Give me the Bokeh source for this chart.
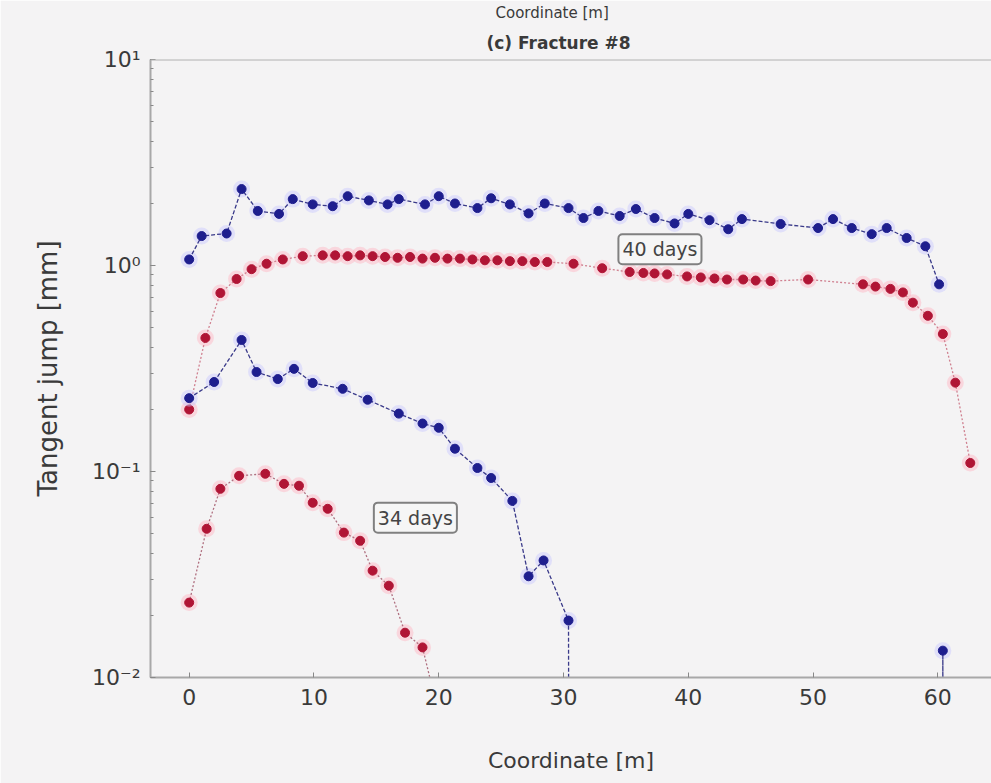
from bokeh.plotting import figure
from bokeh.models import Range1d, Label, Span, CustomJSTickFormatter, FixedTicker, LogTicker, Title
from bokeh.embed import file_html
from bokeh.resources import INLINE

# ---- data ----
blue40_x = [0, 1.0, 3.0, 4.2, 5.5, 7.2, 8.3, 9.9, 11.5, 12.7, 14.4, 15.9, 16.8, 18.9, 20.0, 21.3, 23.1, 24.2, 25.7, 27.2,
            28.5, 30.4, 31.6, 32.8, 34.5, 35.8, 37.3, 38.9, 40.0, 41.7, 43.2, 44.3, 47.4, 50.4, 51.6, 53.1, 54.7, 55.9, 57.5, 59.0, 60.1]
blue40_y = [1.07, 1.39, 1.43, 2.35, 1.84, 1.78, 2.10, 1.98, 1.94, 2.17, 2.07, 1.98, 2.10, 1.98, 2.17, 2.00, 1.90, 2.12, 1.98, 1.79,
            2.00, 1.90, 1.70, 1.84, 1.74, 1.88, 1.70, 1.60, 1.78, 1.66, 1.50, 1.68, 1.59, 1.52, 1.68, 1.52, 1.42, 1.52, 1.36, 1.24, 0.81]

red40_x = [0, 1.3, 2.5, 3.8, 5.0, 6.2, 7.5, 9.1,
           10.7, 11.7, 12.7, 13.7, 14.7, 15.7, 16.7, 17.7, 18.7, 19.7, 20.7, 21.7, 22.7, 23.7, 24.7, 25.7, 26.7, 27.7, 28.7,
           30.8, 33.1, 35.3, 36.4, 37.3, 38.3, 39.9, 41.0, 42.1, 43.1,
           44.4, 45.4, 46.6, 49.6,
           54.0, 55.0, 56.2, 57.2, 58.0, 59.2, 60.4, 61.4, 62.6]
red40_y = [0.20, 0.445, 0.735, 0.86, 0.96, 1.02, 1.07, 1.11,
           1.12, 1.12, 1.11, 1.12, 1.11, 1.10, 1.09, 1.10, 1.08, 1.09, 1.08, 1.08, 1.07, 1.06, 1.06, 1.05, 1.05, 1.04, 1.04,
           1.02, 0.97, 0.93, 0.92, 0.915, 0.905, 0.885, 0.875, 0.865, 0.855,
           0.855, 0.845, 0.84, 0.855,
           0.81, 0.79, 0.77, 0.74, 0.66, 0.57, 0.465, 0.27, 0.11]

blue34_x = [0, 2.0, 4.2, 5.4, 7.1, 8.4, 9.9, 12.3, 14.3, 16.8, 18.7, 20.0, 21.3, 23.1, 24.2, 25.9, 27.2, 28.4, 30.4,
            30.5, 60.35, 60.4, 60.45]
blue34_y = [0.227, 0.272, 0.435, 0.304, 0.281, 0.315, 0.269, 0.252, 0.223, 0.191, 0.171, 0.163, 0.129, 0.104, 0.093, 0.072, 0.031, 0.037, 0.0189,
            1e-5, 1e-5, 0.0135, 1e-5]

red34_x = [0, 1.4, 2.5, 4.0, 6.1, 7.6, 8.8, 9.9, 11.1, 12.4, 13.7, 14.7, 16.0, 17.3, 18.7, 19.9, 21.0]
red34_y = [0.0231, 0.0527, 0.0824, 0.0953, 0.0975, 0.0871, 0.0853, 0.0705, 0.0659, 0.0505, 0.0461, 0.033, 0.0279, 0.0165, 0.014, 0.007, 1e-5]

x_ticks = [0, 10, 20, 30, 40, 50, 60]

BG = "#f4f3f4"
FONT = "DejaVu Sans"
TXT = "#3a3a3a"

# outer top text: x-label of the panel above, cut by the window in the reference
top_title = Title(text="Coordinate [m]", text_font=FONT, text_font_size="15px", text_font_style="normal",
                  text_color=TXT, align="left", offset=345, standoff=3)

p = figure(width=991, height=783, x_range=Range1d(-3.1, 64.3), y_range=Range1d(0.01, 10),
           y_axis_type="log", output_backend="svg", toolbar_location=None, title=top_title,
           min_border_left=150, min_border_right=0, min_border_top=57, min_border_bottom=106,
           background_fill_color=BG, border_fill_color=BG, outline_line_color=None)
p.grid.visible = False

p.add_layout(Title(text="(c) Fracture #8", text_font=FONT, text_font_size="17px", text_font_style="bold",
                   text_color=TXT, align="left", offset=336, standoff=14), "above")

# axes
p.xaxis.ticker = FixedTicker(ticks=x_ticks)
p.yaxis.ticker = LogTicker(num_minor_ticks=10)
p.yaxis.formatter = CustomJSTickFormatter(code="""
const e = Math.round(Math.log10(tick));
const s = {"-2": "\u207b\u00b2", "-1": "\u207b\u00b9", "0": "\u2070", "1": "\u00b9"};
return "10" + (s[String(e)] || String(e));
""")
p.xaxis.axis_label = "Coordinate [m]"
p.yaxis.axis_label = "Tangent jump [mm]"
for ax in (p.xaxis, p.yaxis):
    ax.axis_line_color = "#a8a8a8"
    ax.axis_line_width = 2
    ax.major_tick_line_color = "#888888"
    ax.minor_tick_line_color = "#888888"
    ax.major_tick_in = 5
    ax.major_tick_out = 0
    ax.minor_tick_in = 3
    ax.minor_tick_out = 0
    ax.major_label_text_font = FONT
    ax.major_label_text_font_size = "22px"
    ax.major_label_text_color = TXT
    ax.axis_label_text_font = FONT
    ax.axis_label_text_font_style = "normal"
    ax.axis_label_text_color = TXT
p.xaxis.minor_tick_in = 0
p.xaxis.major_label_standoff = 11
p.xaxis.axis_label_text_font_size = "22px"
p.xaxis.axis_label_standoff = 40
p.yaxis.major_label_standoff = 10
p.yaxis.axis_label_text_font_size = "26px"
p.yaxis.axis_label_standoff = 26

# top spine
p.add_layout(Span(location=10, dimension="width", line_color="#b0b0b0", line_width=2))

# series: halo + line + markers
def series(xs, ys, line_col, dash, mark_col, halo_col):
    p.scatter(xs, ys, size=17, fill_color=halo_col, fill_alpha=0.45, line_color=None)
    p.line(xs, ys, line_color=line_col, line_width=1.3, line_dash=dash)
    p.scatter(xs, ys, size=9, fill_color=mark_col, line_color=mark_col, line_width=1)

series(blue40_x, blue40_y, "#3a3a8a", "4 2", "#1e1e8e", "#c8c8ff")
series(red40_x, red40_y, "#d08090", "2 2", "#b01535", "#ffb4c0")
series(blue34_x, blue34_y, "#3a3a8a", "4 2", "#1e1e8e", "#c8c8ff")
series(red34_x, red34_y, "#b07080", "2 2", "#b01535", "#ffb4c0")

# annotations
for lx, ly, txt in [(34.4, 1.198, "40 days"), (14.8, 0.0597, "34 days")]:
    p.add_layout(Label(x=lx, y=ly, text=txt, text_align="left", text_baseline="middle",
                       text_font=FONT, text_font_size="19px", text_color="#444444",
                       border_line_color="#808080", border_line_width=2, border_radius=4,
                       background_fill_color="#f6f6f6", padding=4))

open("out.html", "w").write(file_html(p, INLINE))
